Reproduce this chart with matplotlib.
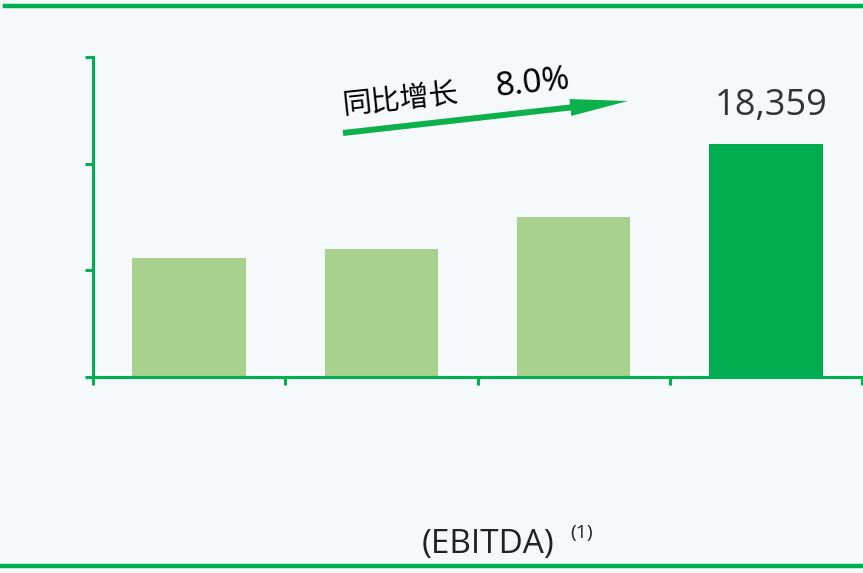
import matplotlib
matplotlib.use("Agg")
import matplotlib.pyplot as plt
import matplotlib.patches as mpatches
from matplotlib.lines import Line2D
import numpy as np

# ---- data ----
values = [9370, 10080, 12600, 18359]
bar_colors = ["#a9d18e", "#a9d18e", "#a9d18e", "#00ad4e"]
last_label = "18,359"
growth_cn = "同比增长"
growth_pct = "8.0%"
ylim_max = 25200
yticks = [0, 8400, 16800, 25200]
footer_text = "(EBITDA)"
footer_sup = "(1)"

GREEN = "#00b050"
BG = "#f5f9fc"

W, H = 863, 573
fig = plt.figure(figsize=(W / 100, H / 100), dpi=100, facecolor=BG)

def fx(px):
    return px / W

def fy(py):
    return 1 - py / H

ax = fig.add_axes([fx(93), fy(377), fx(862) - fx(93), fy(57) - fy(377)])
ax.set_facecolor("none")

x = np.arange(len(values))
ax.bar(x, values, width=0.59, color=bar_colors, zorder=2)

ax.set_xlim(-0.5, len(values) - 0.5)
ax.set_ylim(0, ylim_max)
ax.set_xticks(np.arange(-0.5, len(values), 1.0))
ax.set_xticklabels([])
ax.set_yticks(yticks)
ax.set_yticklabels([])

for s in ["top", "right"]:
    ax.spines[s].set_visible(False)
for s in ["left", "bottom"]:
    ax.spines[s].set_color(GREEN)
    ax.spines[s].set_linewidth(2.2)
    ax.spines[s].set_zorder(3)
ax.tick_params(axis="both", colors=GREEN, length=6, width=2.2, direction="out")

# value label on last bar
ax.text(3.03, values[3] + 2950, last_label, ha="center", va="center",
        fontsize=26, color="#333333", family=["Open Sans", "DejaVu Sans"])

# growth arrow (figure inches via dpi_scale_trans)
x0, y0 = 343, 133
x1, y1 = 628, 101
arrow = mpatches.FancyArrow(x0 / 100, (H - y0) / 100, (x1 - x0) / 100, -(y1 - y0) / 100,
                            width=0.06, head_width=0.17, head_length=0.58,
                            length_includes_head=True, color="#0db14b", lw=0,
                            transform=fig.dpi_scale_trans)
fig.add_artist(arrow)

ang = 6.0
fig.text(fx(400), fy(99), growth_cn, rotation=ang, rotation_mode="anchor",
         ha="center", va="center", fontsize=21, color="black",
         family=["Noto Sans CJK SC", "DejaVu Sans"])
fig.text(fx(533), fy(84), growth_pct, rotation=ang, rotation_mode="anchor",
         ha="center", va="center", fontsize=24, color="black",
         family=["Noto Sans", "DejaVu Sans"])

# footer
fig.text(fx(488), fy(545), footer_text, ha="center", va="center",
         fontsize=24, color="#222222", family=["Open Sans", "DejaVu Sans"])
fig.text(fx(582), fy(533), footer_sup, ha="center", va="center",
         fontsize=14, color="#222222", family=["Open Sans", "DejaVu Sans"])

# horizontal rules
fig.add_artist(Line2D([fx(5), 1], [fy(6), fy(6)], color=GREEN, lw=3.2))
fig.add_artist(Line2D([0, 1], [fy(566), fy(566)], color=GREEN, lw=3.2))

fig.savefig("out.png", dpi=100, facecolor=BG)
